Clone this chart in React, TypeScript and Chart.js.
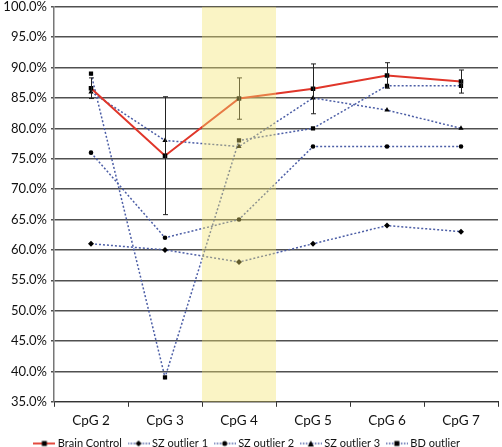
import React, { useEffect, useRef } from "react";
import { Chart, registerables } from "chart.js";

Chart.register(...registerables);

const categories = ["CpG 2", "CpG 3", "CpG 4", "CpG 5", "CpG 6", "CpG 7"];
const brainControl = [86.6, 75.5, 84.9, 86.5, 88.7, 87.7];
const brainControlErr = [1.7, 9.7, 3.4, 4.1, 2.1, 1.9];
const szOutlier1 = [61, 60, 58, 61, 64, 63];
const szOutlier2 = [76, 62, 65, 77, 77, 77];
const szOutlier3 = [86, 78, 77, 85, 83, 80];
const bdOutlier = [89, 39, 78, 80, 87, 87];
const highlightCategory = "CpG 4";

const FONT = "Lato, 'Open Sans', sans-serif";
const BLUE = "#4c5ea6";
const RED = "#e0362a";

function makeLegendIcon(color: string, dashed: boolean, style: string) {
  const c = document.createElement("canvas");
  c.width = 22;
  c.height = 8;
  const ctx = c.getContext("2d")!;
  ctx.strokeStyle = color;
  ctx.lineWidth = dashed ? 1.3 : 1.8;
  ctx.setLineDash(dashed ? [1.5, 1.5] : []);
  ctx.beginPath();
  ctx.moveTo(0, 4);
  ctx.lineTo(22, 4);
  ctx.stroke();
  ctx.setLineDash([]);
  ctx.fillStyle = "#000";
  ctx.beginPath();
  if (style === "rect") ctx.rect(8.5, 1.5, 5, 5);
  else if (style === "rectRot") {
    ctx.moveTo(11, 1);
    ctx.lineTo(14, 4);
    ctx.lineTo(11, 7);
    ctx.lineTo(8, 4);
    ctx.closePath();
  } else if (style === "triangle") {
    ctx.moveTo(11, 1);
    ctx.lineTo(14, 7);
    ctx.lineTo(8, 7);
    ctx.closePath();
  } else ctx.arc(11, 4, 2.5, 0, Math.PI * 2);
  ctx.fill();
  return c;
}

const CANVAS_H = 452;

export default function App() {
  const ref = useRef<HTMLCanvasElement>(null);
  useEffect(() => {
    if (!ref.current) return;
    const outlier = (label: string, data: number[], pointStyle: string) => ({
      label,
      data,
      borderColor: BLUE,
      borderWidth: 1.5,
      borderDash: [2, 2],
      pointStyle,
      pointRadius: pointStyle === "circle" ? 2.3 : 3,
      pointBackgroundColor: "#000",
      pointBorderColor: "#000",
      pointBorderWidth: 0,
      fill: false,
      tension: 0,
    });
    const datasets: any[] = [
      {
        label: "Brain Control",
        data: brainControl,
        borderColor: RED,
        borderWidth: 2,
        pointStyle: "rect",
        pointRadius: 3.2,
        pointBackgroundColor: "#000",
        pointBorderColor: "#000",
        pointBorderWidth: 0,
        fill: false,
        tension: 0,
      },
      outlier("SZ outlier 1", szOutlier1, "rectRot"),
      outlier("SZ outlier 2", szOutlier2, "circle"),
      outlier("SZ outlier 3", szOutlier3, "triangle"),
      outlier("BD outlier", bdOutlier, "rect"),
    ];

    const errorBars = {
      id: "errorBars",
      afterDatasetsDraw(chart: any) {
        const meta = chart.getDatasetMeta(0);
        const y = chart.scales.y;
        const ctx = chart.ctx;
        ctx.save();
        ctx.strokeStyle = "#222";
        ctx.lineWidth = 1;
        meta.data.forEach((pt: any, i: number) => {
          const v = brainControl[i];
          const e = brainControlErr[i];
          const x = Math.round(pt.x) + 0.5;
          const yt = y.getPixelForValue(v + e);
          const yb = y.getPixelForValue(v - e);
          ctx.beginPath();
          ctx.moveTo(x, yt);
          ctx.lineTo(x, yb);
          ctx.moveTo(x - 2.5, yt);
          ctx.lineTo(x + 2.5, yt);
          ctx.moveTo(x - 2.5, yb);
          ctx.lineTo(x + 2.5, yb);
          ctx.stroke();
        });
        const xs = chart.scales.x;
        const idx = categories.indexOf(highlightCategory);
        const half = (xs.getPixelForValue(1) - xs.getPixelForValue(0)) / 2;
        const cx = xs.getPixelForValue(idx);
        const area = chart.chartArea;
        ctx.fillStyle = "rgba(242, 228, 110, 0.4)";
        ctx.fillRect(cx - half, area.top, half * 2, area.bottom - area.top);
        ctx.restore();
      },
    };

    const chart = new Chart(ref.current, {
      type: "line",
      data: { labels: categories, datasets },
      plugins: [errorBars],
      options: {
        animation: false,
        responsive: false,
        maintainAspectRatio: false,
        layout: { padding: { top: 0, right: 0, bottom: -12, left: 0 } },
        plugins: {
          tooltip: { enabled: false },
          legend: {
            position: "bottom",
            labels: {
              usePointStyle: true,
              pointStyleWidth: 16,
              boxHeight: 8,
              padding: 3,
              color: "#111",
              font: { family: FONT, size: 11 },
              generateLabels: (chart: any) =>
                chart.data.datasets.map((ds: any, i: number) => ({
                  text: ds.label + "  ",
                  datasetIndex: i,
                  pointStyle: makeLegendIcon(i === 0 ? RED : BLUE, i !== 0, ds.pointStyle),
                  fillStyle: "transparent",
                  strokeStyle: "transparent",
                  lineWidth: 0,
                  fontColor: "#111",
                })),
            },
          },
        },
        scales: {
          x: {
            offset: true,
            grid: {
              offset: true,
              drawOnChartArea: false,
              drawTicks: true,
              tickLength: 5,
              color: "#333",
            },
            border: { color: "#333", width: 1 },
            ticks: { color: "#111", font: { family: FONT, size: 13.5 }, padding: 6 },
          },
          y: {
            min: 35,
            max: 100,
            afterFit: (s: any) => {
              s.width = 54;
            },
            ticks: {
              stepSize: 5,
              color: "#111",
              font: { family: FONT, size: 13 },
              padding: 4,
              callback: (v: any) => Number(v).toFixed(1) + "%",
            },
            grid: { color: "#505050", lineWidth: 1.5, tickLength: 3 },
            border: { color: "#777", width: 1.5 },
          },
        },
      } as any,
    });
    return () => chart.destroy();
  }, []);
  return (
    <div style={{ position: "fixed", left: 0, top: 0, width: 502, height: 447, background: "#fff", overflow: "hidden" }}>
      <canvas
        ref={ref}
        width={502}
        height={CANVAS_H}
        style={{ position: "absolute", left: 0, top: 447 - CANVAS_H, width: 502, height: CANVAS_H }}
      />
    </div>
  );
}
